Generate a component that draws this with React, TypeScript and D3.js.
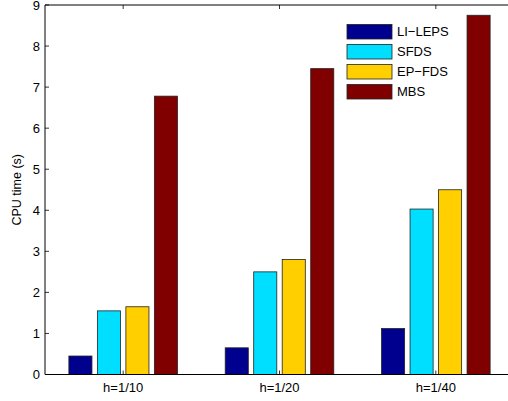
import * as d3 from "d3";
import React from "react";

const categories = ["h=1/10", "h=1/20", "h=1/40"];
const seriesNames = ["LI\u2212LEPS", "SFDS", "EP\u2212FDS", "MBS"];
const liLeps = [0.45, 0.65, 1.12];
const sfds = [1.55, 2.5, 4.03];
const epFds = [1.65, 2.8, 4.5];
const mbs = [6.78, 7.45, 8.75];
const yTicks = [0, 1, 2, 3, 4, 5, 6, 7, 8, 9];

const seriesValues = [liLeps, sfds, epFds, mbs];
const colors = ["#00008f", "#00dfff", "#ffcf00", "#800000"];

const W = 508;
const H = 401;
const left = 45;
const right = 514;
const top = 5;
const bottom = 374.5;
const font = "'Liberation Sans', Arial, Helvetica, sans-serif";

export default function App() {
  const x0 = d3.scaleBand().domain(categories).range([left, right]).padding(0);
  // bars inside one group
  const x1 = d3
    .scaleBand()
    .domain(seriesNames)
    .range([-57, 57])
    .paddingInner(0.19)
    .paddingOuter(0.095);
  const y = d3.scaleLinear().domain([0, 9]).range([bottom, top]);

  const tickLen = 4;

  return (
    <svg
      width={W}
      height={H}
      style={{ position: "absolute", left: 0, top: 0, background: "#fff" }}
      fontFamily={font}
    >
      <rect x={0} y={0} width={W} height={H} fill="#fff" />
      {categories.map((c, i) => {
        const cx = (x0(c) as number) + x0.bandwidth() / 2;
        return seriesNames.map((s, j) => {
          const v = seriesValues[j][i];
          return (
            <rect
              key={c + s}
              x={cx + (x1(s) as number)}
              y={y(v)}
              width={x1.bandwidth()}
              height={y(0) - y(v)}
              fill={colors[j]}
              stroke="#222"
              strokeWidth={0.8}
            />
          );
        });
      })}
      {/* axes box */}
      <line x1={left} x2={right} y1={bottom} y2={bottom} stroke="#000" strokeWidth={1} />
      <line x1={left} x2={right} y1={top} y2={top} stroke="#000" strokeWidth={1} />
      <line x1={left} x2={left} y1={top} y2={bottom} stroke="#000" strokeWidth={1} />
      <line x1={right} x2={right} y1={top} y2={bottom} stroke="#000" strokeWidth={1} />
      {yTicks.map((t) => (
        <g key={t}>
          <line x1={left} x2={left + tickLen} y1={y(t)} y2={y(t)} stroke="#000" strokeWidth={0.8} />
          <line x1={right} x2={right - tickLen} y1={y(t)} y2={y(t)} stroke="#000" strokeWidth={0.8} />
          <text
            x={left - 5}
            y={y(t)}
            textAnchor="end"
            dominantBaseline="central"
            fontSize={13}
            fill="#000"
          >
            {t}
          </text>
        </g>
      ))}
      {categories.map((c) => {
        const cx = (x0(c) as number) + x0.bandwidth() / 2;
        return (
          <g key={c}>
            <line x1={cx} x2={cx} y1={bottom} y2={bottom - tickLen} stroke="#000" strokeWidth={0.8} />
            <line x1={cx} x2={cx} y1={top} y2={top + tickLen} stroke="#000" strokeWidth={0.8} />
            <text x={cx} y={bottom + 17} textAnchor="middle" fontSize={13} fill="#000">
              {c}
            </text>
          </g>
        );
      })}
      <text
        transform={`translate(20.5,${(top + bottom) / 2}) rotate(-90)`}
        textAnchor="middle"
        fontSize={12.5}
        fill="#000"
      >
        CPU time (s)
      </text>
      {/* legend */}
      {seriesNames.map((s, j) => {
        const cy = 31.7 + j * 20;
        return (
          <g key={s}>
            <rect
              x={347}
              y={cy - 7.3}
              width={45}
              height={14.6}
              fill={colors[j]}
              stroke="#222"
              strokeWidth={0.8}
            />
            <text x={397} y={cy} dominantBaseline="central" fontSize={13} fill="#000">
              {s}
            </text>
          </g>
        );
      })}
    </svg>
  );
}
